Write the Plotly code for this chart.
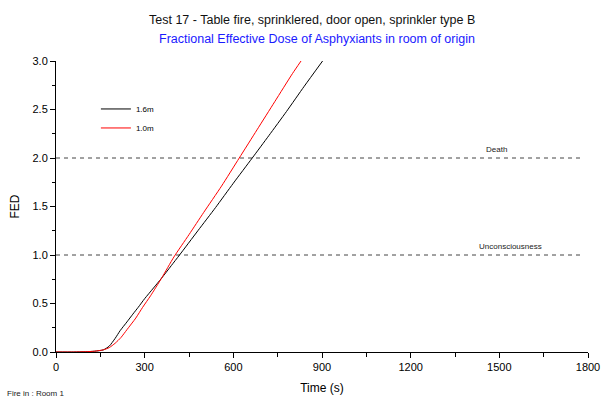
import plotly.graph_objects as go

# FED curves
time_16 = [0, 60, 100, 130, 160, 180, 200, 217, 240, 260, 278, 300, 330, 357, 390, 418,
           480, 540, 600, 664, 720, 780, 840, 902]
fed_16 = [0.0, 0.0, 0.003, 0.008, 0.022, 0.06, 0.14, 0.22, 0.31, 0.39, 0.46, 0.55, 0.66,
          0.76, 0.89, 1.0, 1.25, 1.49, 1.74, 2.0, 2.23, 2.48, 2.74, 3.0]

time_10 = [0, 60, 100, 130, 160, 180, 200, 220, 240, 270, 293, 320, 357, 399,
           450, 500, 560, 620, 680, 740, 800, 829]
fed_10 = [0.0, 0.0, 0.003, 0.008, 0.022, 0.045, 0.09, 0.15, 0.23, 0.35, 0.46, 0.58, 0.76,
          0.98, 1.21, 1.44, 1.71, 2.0, 2.29, 2.58, 2.87, 3.0]

# threshold lines
thresh_x = [0, 1780]
thresh_levels = [2.0, 1.0]
thresh_names = ["Death", "Unconsciousness"]
thresh_label_x = [1489, 1539]

FONT = "Liberation Sans, Arial, sans-serif"

fig = go.Figure()

for lvl in thresh_levels:
    fig.add_trace(go.Scatter(x=thresh_x, y=[lvl, lvl], mode="lines", showlegend=False,
                             line=dict(color="#444444", width=1, dash="4px,4px"),
                             hoverinfo="skip"))

fig.add_trace(go.Scatter(x=time_16, y=fed_16, mode="lines", name="1.6m",
                         line=dict(color="black", width=1, shape="spline", smoothing=0.6)))
fig.add_trace(go.Scatter(x=time_10, y=fed_10, mode="lines", name="1.0m",
                         line=dict(color="red", width=1, shape="spline", smoothing=0.6)))

for name, lvl, lx in zip(thresh_names, thresh_levels, thresh_label_x):
    fig.add_annotation(x=lx, y=lvl, text=name, showarrow=False, yshift=9,
                       font=dict(size=8, color="#222222", family=FONT))

# titles and footnote, placed in paper coordinates
fig.add_annotation(text="Test 17 - Table fire, sprinklered, door open, sprinkler type B",
                   x=0.481, y=1.141, xref="paper", yref="paper", showarrow=False,
                   xanchor="center", yanchor="middle",
                   font=dict(size=12.5, color="#111111", family=FONT))
fig.add_annotation(text="Fractional Effective Dose of Asphyxiants in room of origin",
                   x=0.491, y=1.076, xref="paper", yref="paper", showarrow=False,
                   xanchor="center", yanchor="middle",
                   font=dict(size=12.5, color="#1a1aff", family=FONT))
fig.add_annotation(text="Fire in : Room 1", x=-0.096, y=-0.144, xref="paper", yref="paper",
                   showarrow=False, xanchor="left", yanchor="middle",
                   font=dict(size=8, color="#222222", family=FONT))

fig.update_layout(
    width=601, height=401,
    margin=dict(l=56, r=13, t=61, b=49),
    paper_bgcolor="white", plot_bgcolor="white",
    font=dict(family=FONT, size=11, color="black"),
    legend=dict(x=0.075, y=0.885, xanchor="left", yanchor="top", bgcolor="rgba(0,0,0,0)",
                font=dict(size=8, family=FONT), tracegroupgap=0, itemwidth=30),
    showlegend=True,
)

fig.update_xaxes(range=[0, 1800], dtick=300, tick0=0, showgrid=False, zeroline=False,
                 showline=True, linecolor="black", linewidth=1, ticks="outside", ticklen=5,
                 tickcolor="black", automargin=False,
                 minor=dict(dtick=150, ticks="outside", ticklen=4, tickcolor="black"),
                 title=dict(text="Time (s)", font=dict(size=12, family=FONT), standoff=11),
                 tickfont=dict(size=11))
fig.update_yaxes(range=[0, 3], dtick=0.5, tick0=0, tickformat=".1f", showgrid=False, zeroline=False,
                 showline=True, linecolor="black", linewidth=1, ticks="outside", ticklen=5,
                 tickcolor="black", automargin=False,
                 minor=dict(dtick=0.25, ticks="outside", ticklen=3, tickcolor="black"),
                 title=dict(text="FED", font=dict(size=12, family=FONT), standoff=10),
                 tickfont=dict(size=11))

# drop the default 8px page margin so the figure sits at the window's corner
fig.write_html("out.html", config={"displayModeBar": False},
               post_script="document.body.style.margin='0px';")
